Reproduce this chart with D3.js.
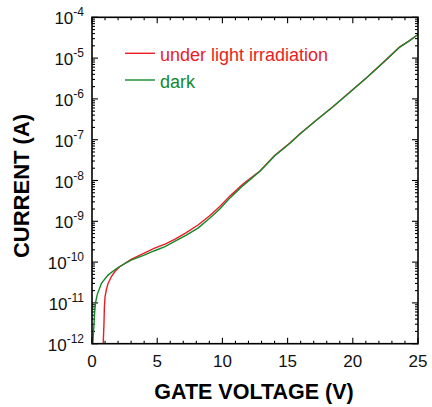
<!DOCTYPE html>
<html>
<head>
<meta charset="utf-8">
<script src="https://cdn.jsdelivr.net/npm/d3@7"></script>
<style>
  body { margin: 0; background: #fff; }
  svg { display: block; font-family: "Liberation Sans", Arial, sans-serif; }
</style>
</head>
<body>
<div id="chart"></div>
<script>
'use strict';

// gate voltage (V) / current (A)
var darkV = [0.06, 0.14, 0.2, 0.27, 0.4, 0.72, 1.23, 1.7, 2.12, 3.0, 4.0, 4.8, 5.6, 6.34, 7.2, 8.13, 9.0, 9.8, 10.6, 11.6, 12.9, 14.0, 15.2, 15.95, 17.2, 18.5, 19.8, 21.1, 22.4, 23.6, 24.3, 25];
var darkI = [1.0e-12, 2.5e-12, 5.6e-12, 1.0e-11, 1.6e-11, 3.0e-11, 4.8e-11, 6.3e-11, 7.8e-11, 1.12e-10, 1.48e-10, 1.9e-10, 2.4e-10, 3.2e-10, 4.5e-10, 6.8e-10, 1.17e-9, 2.0e-9, 3.8e-9, 7.6e-9, 1.7e-8, 4.0e-8, 8.3e-8, 1.38e-7, 3.0e-7, 6.5e-7, 1.48e-6, 3.4e-6, 8.1e-6, 1.86e-5, 2.6e-5, 3.8e-5];
var lightV = [0.86, 0.92, 0.95, 1.0, 1.1, 1.23, 1.5, 1.74, 2.1, 3.0, 4.0, 4.8, 5.6, 6.34, 7.2, 8.13, 9.0, 9.8, 10.6, 11.6, 12.9, 14.0, 15.2, 15.95, 17.2, 18.5, 19.8, 21.1, 22.4, 23.6, 24.3, 25];
var lightI = [1.0e-12, 3.2e-12, 7.9e-12, 1.4e-11, 2.1e-11, 3.0e-11, 4.5e-11, 5.8e-11, 7.6e-11, 1.17e-10, 1.66e-10, 2.2e-10, 2.75e-10, 3.6e-10, 5.2e-10, 8.1e-10, 1.35e-9, 2.3e-9, 4.2e-9, 8.3e-9, 1.74e-8, 4.1e-8, 8.4e-8, 1.4e-7, 3.0e-7, 6.5e-7, 1.5e-6, 3.4e-6, 8.2e-6, 1.88e-5, 2.6e-5, 3.8e-5];

var seriesNames = ['under light irradiation', 'dark'];
var seriesColors = ['#ec1c24', '#13892a'];
var xTicks = [0, 5, 10, 15, 20, 25];
var yExps = [-12, -11, -10, -9, -8, -7, -6, -5, -4];

var width = 432, height = 407;
var plotLeft = 92, plotRight = 418, plotTop = 17.3, plotBottom = 343.7;

var svg = d3.select('#chart').append('svg')
    .attr('width', width)
    .attr('height', height);

var x = d3.scaleLinear().domain([0, 25]).range([plotLeft, plotRight]);
var y = d3.scaleLog().domain([1e-12, 1e-4]).range([plotBottom, plotTop]);

svg.append('clipPath').attr('id', 'clip')
    .append('rect')
    .attr('x', plotLeft).attr('y', plotTop)
    .attr('width', plotRight - plotLeft).attr('height', plotBottom - plotTop);

// minor ticks
var xMinor = d3.range(0, 26, 1);
var yMinor = [];
for (var e = -12; e < -4; e++) {
    for (var m = 2; m <= 9; m++) yMinor.push(m * Math.pow(10, e));
}

var ticks = svg.append('g').attr('stroke', '#000').attr('stroke-width', 1.1);
xMinor.forEach(function(v) {
    var len = xTicks.indexOf(v) >= 0 ? 6 : 3;
    ticks.append('line').attr('x1', x(v)).attr('x2', x(v)).attr('y1', plotBottom).attr('y2', plotBottom - len);
    ticks.append('line').attr('x1', x(v)).attr('x2', x(v)).attr('y1', plotTop).attr('y2', plotTop + len);
});
yExps.forEach(function(ex) {
    var v = Math.pow(10, ex);
    ticks.append('line').attr('x1', plotLeft).attr('x2', plotLeft + 6).attr('y1', y(v)).attr('y2', y(v));
    ticks.append('line').attr('x1', plotRight).attr('x2', plotRight - 6).attr('y1', y(v)).attr('y2', y(v));
});
yMinor.forEach(function(v) {
    ticks.append('line').attr('x1', plotLeft).attr('x2', plotLeft + 3).attr('y1', y(v)).attr('y2', y(v));
    ticks.append('line').attr('x1', plotRight).attr('x2', plotRight - 3).attr('y1', y(v)).attr('y2', y(v));
});

// curves
var line = d3.line()
    .x(function(d) { return x(d[0]); })
    .y(function(d) { return y(d[1]); });

var lightData = d3.zip(lightV, lightI);
var darkData = d3.zip(darkV, darkI);
var plot = svg.append('g').attr('clip-path', 'url(#clip)');
[lightData, darkData].forEach(function(data, i) {
    plot.append('path')
        .datum(data)
        .attr('d', line)
        .attr('fill', 'none')
        .attr('stroke', seriesColors[i])
        .attr('stroke-width', 1.4);
});

// frame
svg.append('rect')
    .attr('x', plotLeft).attr('y', plotTop)
    .attr('width', plotRight - plotLeft).attr('height', plotBottom - plotTop)
    .attr('fill', 'none')
    .attr('stroke', '#000')
    .attr('stroke-width', 1.6);

// tick labels
svg.append('g').selectAll('text').data(xTicks).enter()
    .append('text')
    .attr('x', function(d) { return x(d); })
    .attr('y', 367)
    .attr('text-anchor', 'middle')
    .attr('font-size', 17)
    .attr('fill', '#111')
    .text(function(d) { return d; });

var yl = svg.append('g').selectAll('text').data(yExps).enter()
    .append('text')
    .attr('x', 84)
    .attr('y', function(d) { return y(Math.pow(10, d)) + 7; })
    .attr('text-anchor', 'end')
    .attr('fill', '#111')
    .attr('font-size', 17);
yl.append('tspan').text('10');
yl.append('tspan')
    .attr('dy', -8)
    .attr('font-size', 12)
    .text(function(d) { return String(d); });

// axis titles
svg.append('text')
    .attr('x', 254).attr('y', 399)
    .attr('text-anchor', 'middle')
    .attr('font-size', 21.5)
    .attr('font-weight', 'bold')
    .text('GATE VOLTAGE (V)');

svg.append('text')
    .attr('transform', 'translate(29,186) rotate(-90)')
    .attr('text-anchor', 'middle')
    .attr('font-size', 22)
    .attr('font-weight', 'bold')
    .text('CURRENT (A)');

// legend
seriesNames.forEach(function(name, i) {
    var ly = 53.3 + i * 26.7;
    svg.append('line')
        .attr('x1', 125).attr('x2', 155)
        .attr('y1', ly).attr('y2', ly)
        .attr('stroke', seriesColors[i])
        .attr('stroke-width', 1.4);
    svg.append('text')
        .attr('x', 160).attr('y', ly + 8)
        .attr('font-size', 18)
        .attr('fill', seriesColors[i])
        .text(name);
});
</script>
</body>
</html>
